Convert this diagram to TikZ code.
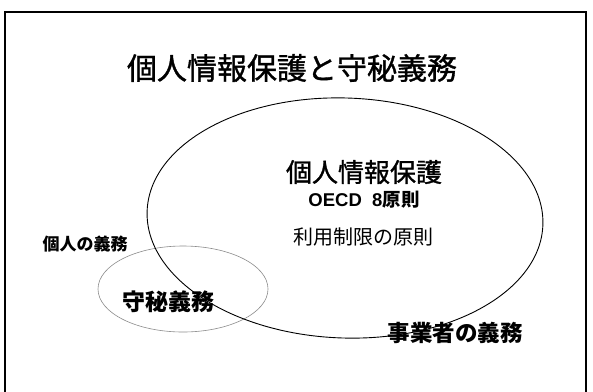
\documentclass[tikz,border=0pt]{standalone}
\usepackage{fontspec}
\setmainfont{Noto Sans CJK JP}
\newfontfamily\medf[FakeBold=1.2]{Noto Sans CJK JP}
\newfontfamily\latb{Liberation Sans}
\usetikzlibrary{shapes.geometric}
\tikzset{
  lbl/.style={inner sep=0pt, text=black},
  bigell/.style={draw=black, line width=0.9pt, ellipse, inner sep=0pt},
  smallell/.style={draw=black!45, line width=0.6pt, ellipse, inner sep=0pt},
  frame/.style={draw=black, line width=2pt}
}
\begin{document}
\begin{tikzpicture}[x=1pt,y=-1pt]
\useasboundingbox (0,0) rectangle (593,391);
\fill[white] (0,0) rectangle (593,391);
\coordinate (fbl) at (5,395);
\coordinate (ftl) at (5,12);
\coordinate (ftr) at (586,12);
\coordinate (fbr) at (586,395);
\draw[frame] (fbl) -- (ftl) -- (ftr) -- (fbr);
\node[lbl, font=\medf\fontsize{30}{32}\selectfont] (title) at (292,68) {個人情報保護と守秘義務};
\node[lbl, font=\medf\fontsize{26}{28}\selectfont] (pip) at (364,172) {個人情報保護};
\node[lbl, font=\bfseries\fontsize{18.5}{20}\selectfont] (oecd) at (364,200) {{\latb\bfseries OECD\ \ 8}原則};
\node[lbl, font=\fontsize{20}{22}\selectfont] (riyo) at (363,237) {利用制限の原則};
\node[lbl, font=\bfseries\fontsize{23}{25}\selectfont] (shuhi) at (168,302) {守秘義務};
\node[lbl, font=\bfseries\fontsize{22.5}{25}\selectfont] (jigyo) at (455,333) {事業者の義務};
\node[lbl, font=\bfseries\fontsize{17}{19}\selectfont] (kojin) at (85,244) {個人の義務};
\node[smallell, minimum width=170pt, minimum height=86pt] (se) at (183,289) {};
\node[bigell, minimum width=396pt, minimum height=240pt, rotate=-2] (be) at (345,218) {};
\end{tikzpicture}
\end{document}
